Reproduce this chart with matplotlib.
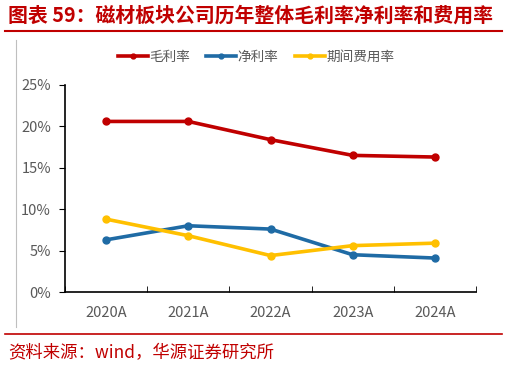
import matplotlib
matplotlib.use("Agg")
import matplotlib.pyplot as plt
from matplotlib.lines import Line2D
from matplotlib.ticker import FuncFormatter

plt.rcParams['font.family'] = ['Noto Sans CJK SC', 'DejaVu Sans']

years = ["2020A", "2021A", "2022A", "2023A", "2024A"]
gross = [20.6, 20.6, 18.4, 16.5, 16.3]
net = [6.3, 8.0, 7.6, 4.5, 4.1]
expense = [8.8, 6.8, 4.4, 5.6, 5.9]

RED, BLUE, YEL = "#C00000", "#1F6BA5", "#FFC000"
W, H = 507, 367

fig = plt.figure(figsize=(W / 100, H / 100), dpi=100)
ax = fig.add_axes([65 / W, 1 - 292 / H, (476 - 65) / W, (292 - 85) / H])

x = range(len(years))
for vals, c, lab in [(gross, RED, "毛利率"), (net, BLUE, "净利率"), (expense, YEL, "期间费用率")]:
    ax.plot(x, vals, color=c, lw=2.6, marker="o", ms=5, label=lab, solid_capstyle="round")

ax.set_xlim(-0.5, len(years) - 0.5)
ax.set_ylim(0, 25)
ax.set_yticks([0, 5, 10, 15, 20, 25])
ax.yaxis.set_major_formatter(FuncFormatter(lambda v, p: f"{v:.0f}%"))
ax.set_xticks(list(x))
ax.set_xticklabels(years)
ax.set_xticks([i - 0.5 for i in range(len(years) + 1)], minor=True)
ax.tick_params(axis="x", which="major", length=0, pad=10, labelsize=10.5, labelcolor="#595959")
ax.tick_params(axis="x", which="minor", direction="in", length=4, color="black")
ax.tick_params(axis="y", length=4, color="black", labelsize=10.5, labelcolor="#595959", pad=6)
for s in ["top", "right"]:
    ax.spines[s].set_visible(False)
for s in ["left", "bottom"]:
    ax.spines[s].set_color("black")
    ax.spines[s].set_linewidth(1.2)

handles = [Line2D([], [], color=c, lw=2.6, marker="o", ms=3.5) for c in (RED, BLUE, YEL)]
fig.legend(handles, ["毛利率", "净利率", "期间费用率"], loc="center", bbox_to_anchor=(256 / W, 1 - 57 / H),
           ncol=3, frameon=False, fontsize=9.8, handlelength=2.2, handletextpad=0.1, columnspacing=1.2,
           labelcolor="#595959")

# title, rules, source
fig.text(8 / W, 1 - 15 / H, "图表 59：磁材板块公司历年整体毛利率净利率和费用率", color=RED,
         fontsize=14.3, fontweight="bold", va="center", ha="left")
fig.add_artist(Line2D([5 / W, 502 / W], [1 - 31 / H, 1 - 31 / H], color=RED, lw=1.5))
fig.add_artist(Line2D([5 / W, 502 / W], [1 - 334 / H, 1 - 334 / H], color=RED, lw=1.2))
fig.add_artist(Line2D([16 / W, 16 / W], [1 - 40 / H, 1 - 327 / H], color="#BFBFBF", lw=0.8))
fig.text(8 / W, 1 - 353 / H, "资料来源：wind，华源证券研究所", color=RED, fontsize=12.5,
         va="center", ha="left")

fig.savefig("out.png", dpi=100)
